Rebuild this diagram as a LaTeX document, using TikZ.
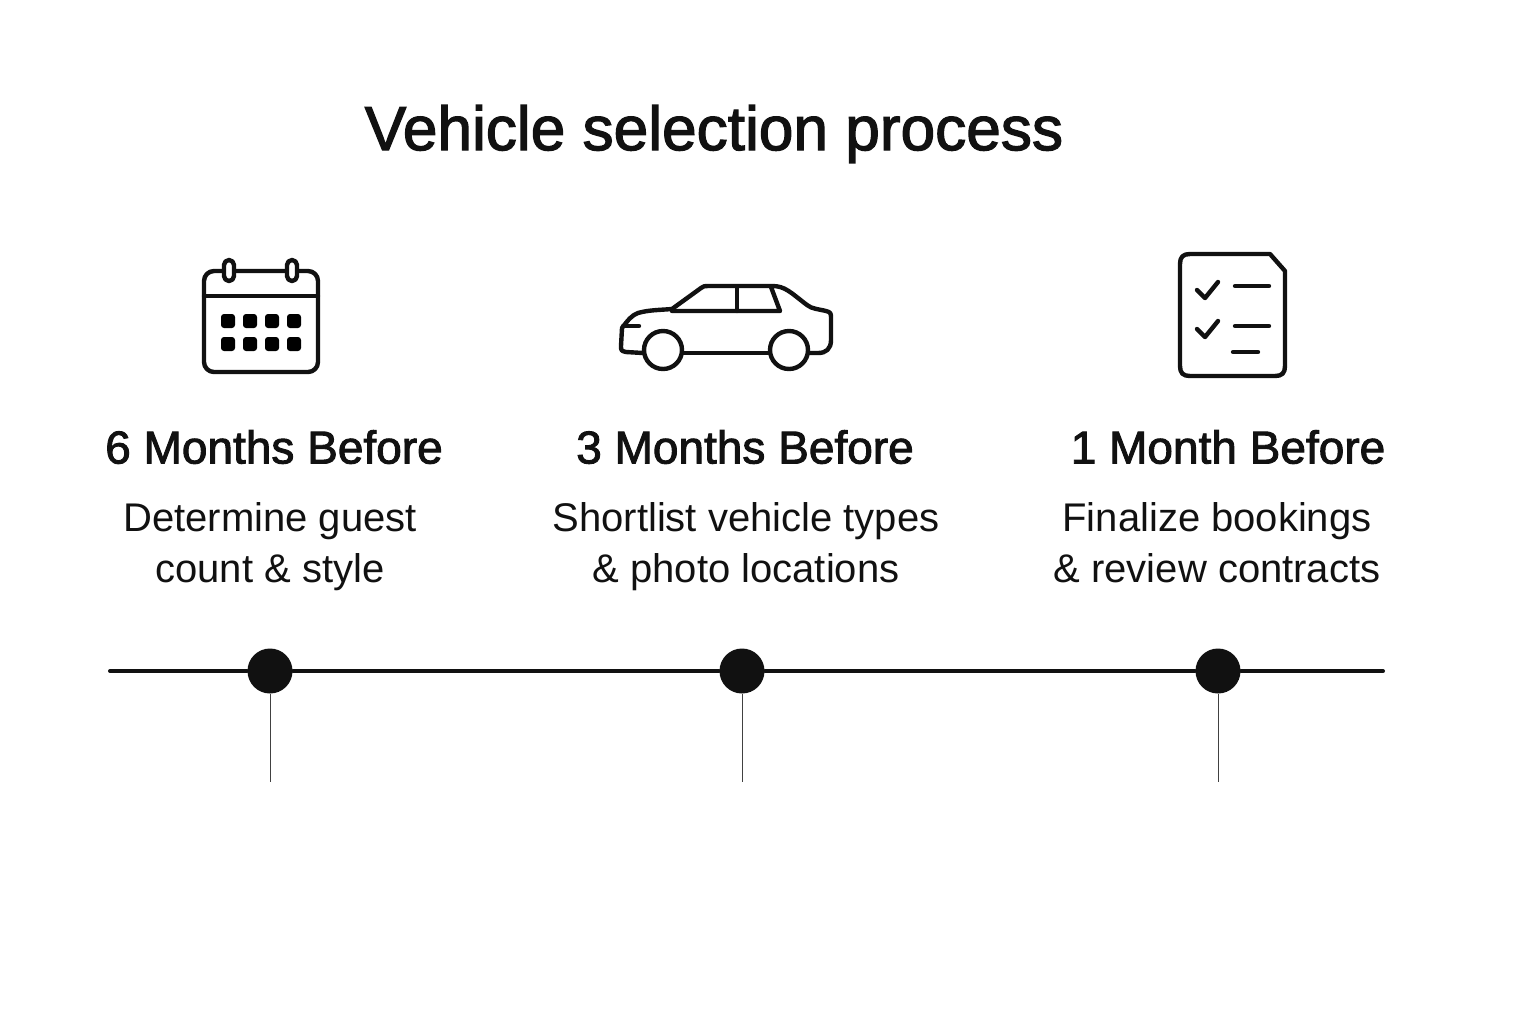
\documentclass[tikz,border=0pt]{standalone}
\usepackage{fontspec}
\setmainfont{Liberation Sans}
\newfontfamily\mediumfont[FakeBold=2]{Liberation Sans}
\usetikzlibrary{positioning}
\definecolor{ink}{HTML}{111111}
\tikzstyle{title} = [font=\mediumfont\fontsize{31.1}{38}\selectfont, text=ink, inner sep=0pt]
\tikzstyle{period} = [font=\mediumfont\fontsize{23}{28}\selectfont, text=ink, inner sep=0pt]
\tikzstyle{task} = [font=\fontsize{20}{25.5}\selectfont, text=ink, align=center, inner sep=0pt]
\tikzstyle{dot} = [shape=circle, fill=ink, minimum size=22.5pt, inner sep=0pt]
\tikzstyle{icon} = [draw=ink, line width=2.2pt, line join=round, line cap=round]
\tikzstyle{axis} = [draw=ink, line width=2pt, line cap=round]
\tikzstyle{stem} = [draw=ink!80, line width=0.5pt]

\begin{document}
\begin{tikzpicture}[x=0.5pt,y=-0.5pt]
	\useasboundingbox (0,0) rectangle (1536,1024);
	\fill[white] (0,0) rectangle (1536,1024);

	\node[title] (title) at (714,134) {Vehicle selection process};

	\node[period] (six) at (274,447) {6 Months Before};
	\node[period] (three) at (745,447) {3 Months Before};
	\node[period] (one) at (1228,447) {1 Month Before};

	\node[task] (guest) at (270,547) {Determine guest\\count \& style};
	\node[task] (short) at (746,547) {Shortlist vehicle types\\\& photo locations};
	\node[task] (final) at (1217,543) {Finalize bookings\\\& review contracts};

	% timeline
	\node[dot] (dot1) at (270,671) {};
	\node[dot] (dot2) at (742,671) {};
	\node[dot] (dot3) at (1218,671) {};
	\coordinate (start) at (110,671);
	\coordinate (end) at (1383,671);
	\coordinate (foot1) at (270,782);
	\coordinate (foot2) at (742,782);
	\coordinate (foot3) at (1218,782);
	\path [axis] (start) edge (dot1);
	\path [axis] (dot1) edge (dot2);
	\path [axis] (dot2) edge (dot3);
	\path [axis] (dot3) edge (end);
	\path [stem] (dot1) edge (foot1);
	\path [stem] (dot2) edge (foot2);
	\path [stem] (dot3) edge (foot3);

	% calendar
	\draw[icon, rounded corners=5pt] (204,271) rectangle (318,372);
	\draw[icon] (204,296) -- (318,296);
	\draw[icon, fill=white, rounded corners=2.5pt] (224,260) rectangle (234,281);
	\draw[icon, fill=white, rounded corners=2.5pt] (287,260) rectangle (297,281);
	\foreach \x in {228,250,272,294}
		\foreach \y in {321,344}
			\fill[black, rounded corners=1.5pt] (\x-7,\y-7) rectangle (\x+7,\y+7);

	% car
	\draw[icon] (643,353) -- (626,352) .. controls (621,351) and (621,350) .. (621,346)
		-- (622,328) .. controls (628,320) and (632,315) .. (638,313)
		.. controls (648,310) and (660,310) .. (672,309)
		-- (701,288) .. controls (703,286) and (705,286) .. (708,286)
		-- (772,286) .. controls (785,286) and (790,292) .. (807,305)
		.. controls (812,309) and (818,309) .. (826,311)
		.. controls (830,312) and (831,313) .. (831,317)
		-- (831,340) .. controls (831,349) and (826,353) .. (818,353) -- (809,353);
	\draw[icon] (683,353) -- (768,353);
	\draw[icon] (663,350) circle (19);
	\draw[icon] (789,350) circle (19);
	\draw[icon] (623,326) -- (639,326);
	\draw[icon] (672,311) -- (780,311) -- (771,287);
	\draw[icon] (737,287) -- (737,311);

	% checklist
	\draw[icon] (1270,254) -- (1190,254) .. controls (1183,254) and (1180,257) .. (1180,264)
		-- (1180,366) .. controls (1180,373) and (1183,376) .. (1190,376)
		-- (1275,376) .. controls (1282,376) and (1285,373) .. (1285,366)
		-- (1285,271) -- cycle;
	\draw[icon] (1197,290) -- (1205,298) -- (1218,282);
	\draw[icon] (1197,329) -- (1205,337) -- (1218,321);
	\draw[icon] (1235,286) -- (1269,286);
	\draw[icon] (1235,326) -- (1269,326);
	\draw[icon] (1233,352) -- (1258,352);
\end{tikzpicture}
\end{document}
